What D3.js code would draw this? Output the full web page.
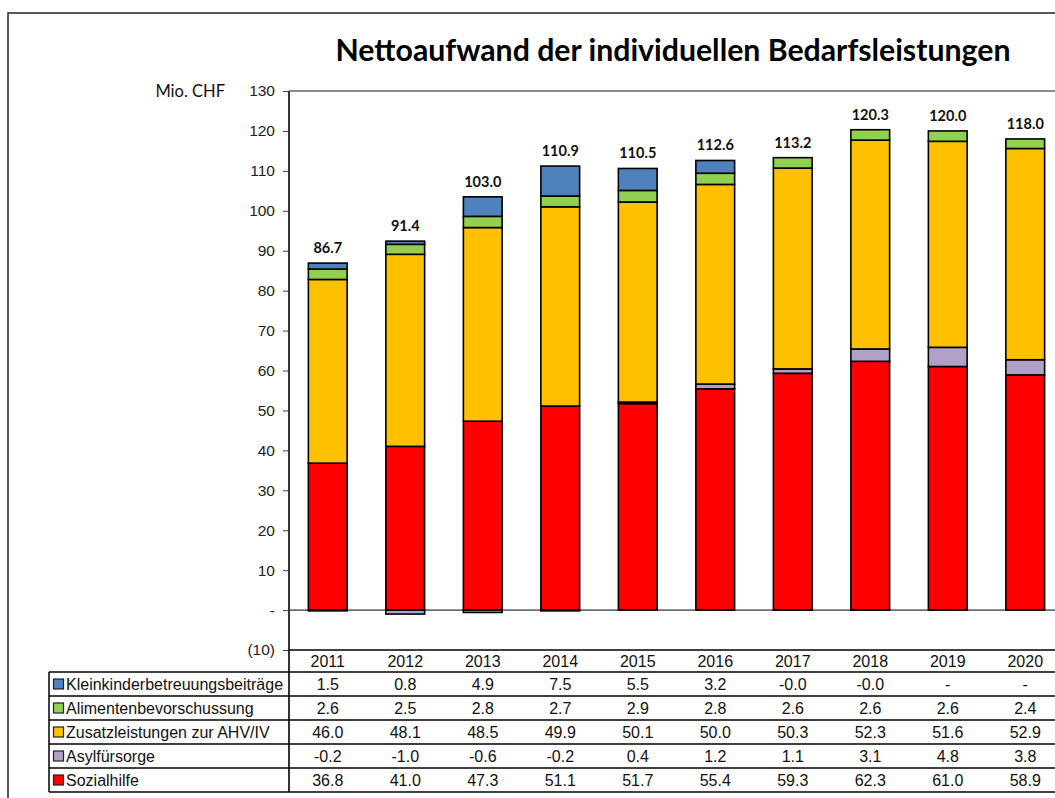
<!DOCTYPE html>
<html>
<head>
<meta charset="utf-8">
<title>Nettoaufwand</title>
<script src="https://cdn.jsdelivr.net/npm/d3@7"></script>
<style>
  body { margin: 0; background: #fff; }
  svg { display: block; }
</style>
</head>
<body>
<div id="chart"></div>
<script>
    // values
    var years = ["2011", "2012", "2013", "2014", "2015", "2016", "2017", "2018", "2019", "2020"];
    var sozialhilfe = [36.8, 41.0, 47.3, 51.1, 51.7, 55.4, 59.3, 62.3, 61.0, 58.9];
    var asylfuersorge = [-0.2, -1.0, -0.6, -0.2, 0.4, 1.2, 1.1, 3.1, 4.8, 3.8];
    var zusatzleistungen = [46.0, 48.1, 48.5, 49.9, 50.1, 50.0, 50.3, 52.3, 51.6, 52.9];
    var alimente = [2.6, 2.5, 2.8, 2.7, 2.9, 2.8, 2.6, 2.6, 2.6, 2.4];
    var kleinkinder = [1.5, 0.8, 4.9, 7.5, 5.5, 3.2, -0.02, -0.02, 0, 0];
    var totals = [86.7, 91.4, 103.0, 110.9, 110.5, 112.6, 113.2, 120.3, 120.0, 118.0];
    var yTicks = [-10, 0, 10, 20, 30, 40, 50, 60, 70, 80, 90, 100, 110, 120, 130];

    var series = [
        {key: "soz", name: "Sozialhilfe", values: sozialhilfe, color: "#ff0000"},
        {key: "asyl", name: "Asylfürsorge", values: asylfuersorge, color: "#b1a0c7"},
        {key: "zus", name: "Zusatzleistungen zur AHV/IV", values: zusatzleistungen, color: "#ffc000"},
        {key: "alim", name: "Alimentenbevorschussung", values: alimente, color: "#92d050"},
        {key: "klein", name: "Kleinkinderbetreuungsbeiträge", values: kleinkinder, color: "#4f81bd"}
    ];

    drawChart();

    function drawChart() {
        var width = 1055, height = 798;
        var plotLeft = 289, plotRight = 1064, plotTop = 91, plotBottom = 650;
        var tableRows = [672, 696, 720, 744, 768, 792];

        var svg = d3.select("#chart").append("svg")
            .attr("width", width)
            .attr("height", height);

        // outer frame, runs off the right and bottom
        svg.append("rect")
            .attr("x", 8).attr("y", 13)
            .attr("width", 1200).attr("height", 900)
            .attr("fill", "none")
            .attr("stroke", "#222")
            .attr("stroke-width", 1.5);

        var x = d3.scaleBand().domain(years).range([plotLeft, plotRight]).paddingInner(0.5).paddingOuter(0.25);
        var y = d3.scaleLinear().domain([-10, 130]).range([plotBottom, plotTop]);

        var rows = years.map(function(yr, i) {
            var r = {year: yr};
            series.forEach(function(s) { r[s.key] = s.values[i]; });
            return r;
        });

        var layers = d3.stack()
            .keys(series.map(function(s) { return s.key; }))
            .offset(d3.stackOffsetDiverging)(rows);

        // plot frame top line
        svg.append("line")
            .attr("x1", plotLeft).attr("x2", width + 10)
            .attr("y1", plotTop).attr("y2", plotTop)
            .attr("stroke", "#8c8c8c").attr("stroke-width", 2);

        // y axis
        var yAxis = d3.axisLeft(y)
            .tickValues(yTicks)
            .tickSize(6)
            .tickPadding(8)
            .tickFormat(function(v) {
                if (v === 0) return "-";
                if (v < 0) return "(" + Math.abs(v) + ")";
                return v;
            });
        var ga = svg.append("g")
            .attr("transform", "translate(" + plotLeft + ",0)")
            .call(yAxis);
        ga.select(".domain").remove();
        ga.selectAll(".tick line").attr("stroke", "#404040").attr("stroke-width", 1);
        ga.selectAll(".tick text")
            .attr("font-family", "Liberation Sans, Arial, sans-serif")
            .attr("font-size", 15.5)
            .attr("fill", "#222");

        // bars
        svg.append("g").selectAll("g")
            .data(layers)
            .enter().append("g")
            .attr("fill", function(d, i) { return series[i].color; })
            .selectAll("rect")
            .data(function(d) { return d; })
            .enter().append("rect")
            .attr("x", function(d) { return x(d.data.year); })
            .attr("width", x.bandwidth())
            .attr("y", function(d) { return y(Math.max(d[0], d[1])); })
            .attr("height", function(d) { return Math.abs(y(d[0]) - y(d[1])); })
            .attr("stroke", "#000")
            .attr("stroke-width", 1.6);

        // zero line
        svg.append("line")
            .attr("x1", plotLeft).attr("x2", width + 10)
            .attr("y1", y(0)).attr("y2", y(0))
            .attr("stroke", "#000").attr("stroke-width", 1);

        // axis line, carried down through the table
        svg.append("line")
            .attr("x1", plotLeft).attr("x2", plotLeft)
            .attr("y1", plotTop).attr("y2", tableRows[tableRows.length - 1])
            .attr("stroke", "#333").attr("stroke-width", 2);

        // total labels above the positive stack
        svg.append("g").selectAll("text")
            .data(totals)
            .enter().append("text")
            .attr("x", function(d, i) { return x(years[i]) + x.bandwidth() / 2; })
            .attr("y", function(d, i) {
                var maxTop = d3.max(layers, function(l) { return l[i][1]; });
                return y(maxTop) - 10;
            })
            .attr("text-anchor", "middle")
            .attr("font-family", "Lato, sans-serif")
            .attr("font-weight", "bold")
            .attr("font-size", 14.5)
            .attr("fill", "#111")
            .text(function(d) { return d.toFixed(1); });

        // title
        var title = svg.append("text")
            .attr("x", 673).attr("y", 61)
            .attr("text-anchor", "middle")
            .attr("font-family", "Lato, sans-serif")
            .attr("font-weight", "bold")
            .attr("font-size", 28)
            .attr("fill", "#000")
            .text("Nettoaufwand der individuellen Bedarfsleistungen");
        var tw = title.node().getComputedTextLength();
        title.attr("font-size", 28 * 675 / tw);

        svg.append("text")
            .attr("x", 225).attr("y", 97)
            .attr("text-anchor", "end")
            .attr("font-family", "Lato, sans-serif")
            .attr("font-size", 16.5)
            .attr("fill", "#111")
            .text("Mio. CHF");

        // data table
        var table = svg.append("g").attr("class", "table");
        table.append("line")
            .attr("x1", plotLeft).attr("x2", width + 10)
            .attr("y1", plotBottom).attr("y2", plotBottom)
            .attr("stroke", "#000").attr("stroke-width", 1.5);
        tableRows.forEach(function(ry) {
            table.append("line")
                .attr("x1", 49).attr("x2", width + 10)
                .attr("y1", ry).attr("y2", ry)
                .attr("stroke", "#000").attr("stroke-width", 1.5);
        });
        table.append("line")
            .attr("x1", 49).attr("x2", 49)
            .attr("y1", tableRows[0]).attr("y2", tableRows[tableRows.length - 1])
            .attr("stroke", "#000").attr("stroke-width", 1.5);

        var tfont = "Liberation Sans, Arial, sans-serif";
        var tsize = 16;
        table.selectAll(".yr")
            .data(years)
            .enter().append("text")
            .attr("class", "yr")
            .attr("x", function(d) { return x(d) + x.bandwidth() / 2; })
            .attr("y", (plotBottom + tableRows[0]) / 2 + 6)
            .attr("text-anchor", "middle")
            .attr("font-family", tfont).attr("font-size", tsize)
            .attr("fill", "#111")
            .text(function(d) { return d; });

        var fmt = function(v) { return v === 0 ? "-" : v.toFixed(1); };
        var tableSeries = series.slice().reverse();
        tableSeries.forEach(function(s, r) {
            var cy = (tableRows[r] + tableRows[r + 1]) / 2;
            table.append("rect")
                .attr("x", 53.5).attr("y", cy - 5)
                .attr("width", 10).attr("height", 10)
                .attr("fill", s.color)
                .attr("stroke", "#222").attr("stroke-width", 1.2);
            table.append("text")
                .attr("x", 66).attr("y", cy + 6)
                .attr("font-family", tfont).attr("font-size", tsize)
                .attr("fill", "#111")
                .text(s.name);
            table.selectAll(".v" + s.key)
                .data(s.values)
                .enter().append("text")
                .attr("x", function(d, i) { return x(years[i]) + x.bandwidth() / 2; })
                .attr("y", cy + 6)
                .attr("text-anchor", "middle")
                .attr("font-family", tfont).attr("font-size", tsize)
                .attr("fill", "#111")
                .text(fmt);
        });
    }
</script>
</body>
</html>
